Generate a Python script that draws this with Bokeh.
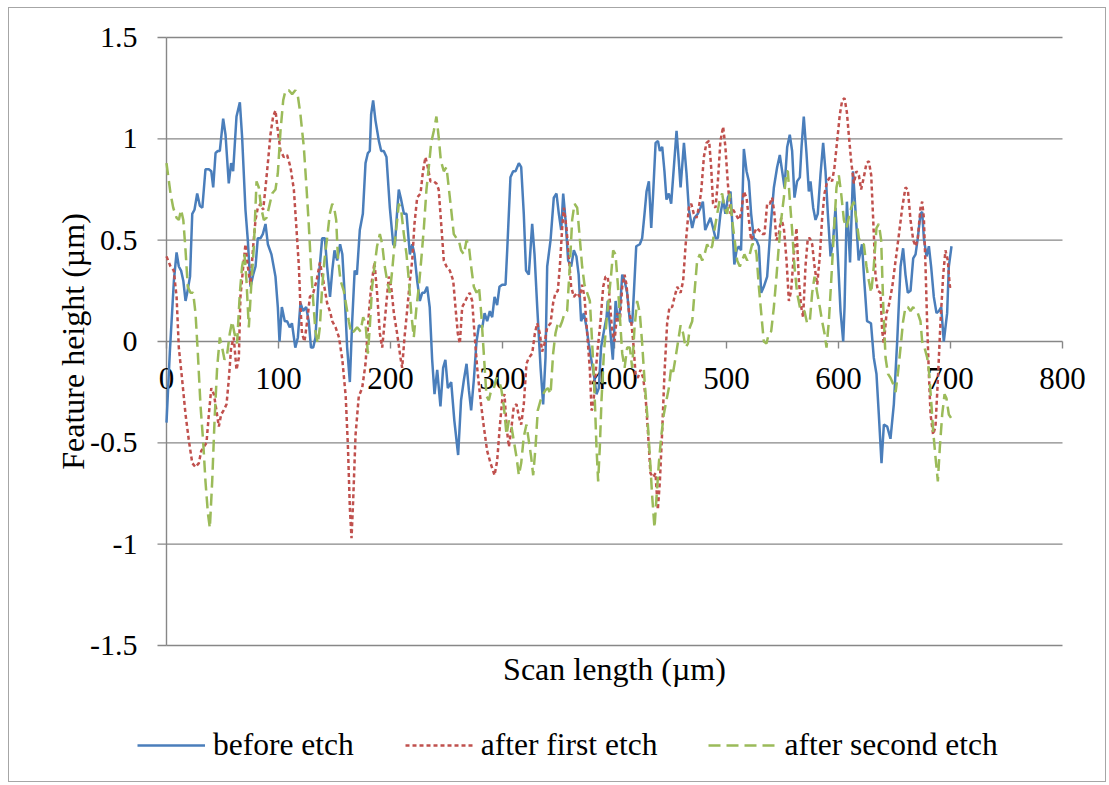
import math
from bokeh.plotting import figure
from bokeh.models import Legend, LegendItem, Range1d
from bokeh.core.properties import value
from bokeh.embed import file_html
from bokeh.resources import INLINE

# ---------------- data ----------------
before_x = [0, 3, 6.6, 9, 11, 13, 15, 17, 18.5, 21, 23, 25, 27.4, 29.8, 32, 34.8, 37.8, 40, 41.7, 43.8,
            45.8, 47.6, 50.6, 52.7, 55.6, 57.7, 59.5, 62.5, 65.5, 67.5, 70.5, 72.6, 75, 77.4, 79.5, 81.5,
            84, 86, 88.4, 90.5, 93.7, 97.3, 99.4, 100.9, 103, 105.6, 107.7, 110, 112, 115, 117.3, 119.6,
            122, 124.7, 127, 129, 131, 133, 136, 139, 141.4, 143.4, 146, 148, 150, 152.4, 155, 157, 159,
            161.3, 163.7, 165.8, 168, 170, 172.6, 175.3, 177.7, 179.8, 181.5, 182.7, 184.5, 186.6, 189.6,
            191.7, 194, 196.4, 199.4, 202.4, 203.9, 205.4, 207.4, 209.5, 212, 214.3, 217.3, 219.4, 221.4,
            223.8, 226.2, 228.3, 230.4, 232.7, 235, 237.2, 239.3, 241.7, 244.6, 247, 249, 251.2, 254.2,
            257, 260.4, 263, 265.5, 267.9, 270, 272, 274.4, 276.8, 279, 282, 284, 286.3, 288.7, 290.8,
            292.9, 295.2, 297.3, 299.7, 302.7, 304.2, 307.1, 309.5, 311.6, 314.6, 316.7, 319, 321, 323.5,
            326.5, 328.6, 331, 334, 336.3, 338.4, 339.9, 342.9, 345.8, 348.2, 350.3, 352.4, 354.2, 356.3,
            358.6, 361.3, 363.7, 366, 368, 370.2, 372.6, 375, 377, 379, 381.5, 383.9, 386, 388, 390.5,
            392.9, 394, 396.4, 398.5, 401, 403, 404.8, 406.9, 409, 411.3, 413.7, 415.8, 417.3, 419.4,
            422.6, 424.7, 426.8, 428.6, 430.7, 432.8, 434.5, 436.7, 438.8, 440.5, 442.6, 444.6, 446.4,
            448.5, 450.6, 453, 455.4, 457.4, 459, 462, 464.3, 466.4, 469.4, 471.4, 474.4, 476.8, 478.9,
            481, 483.3, 485.7, 488, 490.2, 492.3, 494.6, 497, 499, 501.2, 503.6, 505, 507, 509, 511, 513,
            515.5, 517.9, 520, 522, 524.4, 526.8, 528.9, 531, 533.3, 536.3, 539.3, 542.3, 545.2, 547.6,
            549.7, 551.8, 554.2, 556.5, 558.6, 560.7, 563, 565.5, 567, 569, 571.4, 573.5, 575, 577.4,
            579.5, 581.5, 584, 586.3, 588.4, 590.5, 592.9, 595.2, 597.3, 599.4, 601.8, 604.2, 605.4,
            607.5, 610.3, 613, 615, 618, 621, 623, 625.5, 629, 631.5, 633.9, 636, 638.4, 640.5, 643.5,
            646.4, 649.4, 652.4, 655.4, 657.7, 659.8, 661.9, 664.3, 666.7, 668.8, 670.8, 673.2, 674.7,
            676.2, 678.6, 680.7, 682.7, 685.1, 687.5, 689.6, 691.7, 694, 697, 698.5, 700.9]
before_y = [-0.40, -0.05, 0.30, 0.44, 0.37, 0.35, 0.30, 0.20, 0.24, 0.32, 0.63, 0.65, 0.73, 0.67, 0.66,
            0.85, 0.85, 0.84, 0.76, 0.93, 0.94, 0.94, 1.10, 1.02, 0.78, 0.88, 0.84, 1.11, 1.18, 1.01,
            0.65, 0.50, 0.27, 0.33, 0.37, 0.51, 0.51, 0.53, 0.58, 0.48, 0.43, 0.32, 0.17, 0.00, 0.17,
            0.10, 0.10, 0.07, 0.09, -0.03, 0.02, 0.19, 0.15, 0.17, 0.10, -0.03, -0.03, 0.02, 0.32, 0.51,
            0.51, 0.37, 0.22, 0.35, 0.45, 0.40, 0.48, 0.43, 0.24, -0.03, -0.20, 0.10, 0.35, 0.33, 0.55,
            0.63, 0.88, 0.93, 0.94, 1.12, 1.19, 1.09, 0.99, 0.94, 0.94, 0.91, 0.66, 0.48, 0.47, 0.60,
            0.75, 0.70, 0.63, 0.63, 0.43, 0.48, 0.43, 0.30, 0.20, 0.24, 0.24, 0.27, 0.17, -0.09, -0.26,
            -0.14, -0.32, -0.13, -0.09, -0.23, -0.20, -0.39, -0.56, -0.29, -0.19, -0.11, -0.24, -0.34,
            -0.19, 0.00, 0.08, 0.07, 0.14, 0.10, 0.15, 0.12, 0.22, 0.18, 0.27, 0.28, 0.28, 0.45, 0.81,
            0.84, 0.84, 0.88, 0.86, 0.63, 0.35, 0.33, 0.58, 0.43, 0.17, -0.13, -0.31, -0.08, 0.37, 0.50,
            0.71, 0.73, 0.63, 0.55, 0.73, 0.60, 0.40, 0.37, 0.45, 0.42, 0.33, 0.10, 0.14, 0.07, -0.01,
            -0.08, -0.16, -0.26, -0.23, -0.03, 0.05, 0.12, 0.20, 0.04, -0.09, 0.20, 0.10, 0.15, 0.33,
            0.30, 0.24, 0.10, 0.09, 0.24, 0.47, 0.48, 0.51, 0.63, 0.74, 0.79, 0.56, 0.73, 0.98, 0.99,
            0.94, 0.96, 0.84, 0.70, 0.73, 0.68, 0.86, 1.04, 0.89, 0.76, 0.98, 0.83, 0.65, 0.56, 0.61,
            0.63, 0.66, 0.69, 0.55, 0.58, 0.61, 0.56, 0.51, 0.51, 0.63, 0.70, 0.63, 0.71, 0.74, 0.60,
            0.38, 0.45, 0.47, 0.45, 0.95, 0.84, 0.79, 0.63, 0.51, 0.50, 0.47, 0.24, 0.27, 0.32, 0.56,
            0.76, 0.86, 0.92, 0.84, 0.76, 0.96, 1.02, 0.94, 0.71, 0.79, 0.81, 0.96, 1.11, 0.93, 0.74,
            0.79, 0.66, 0.60, 0.63, 0.83, 0.98, 0.84, 0.63, 0.42, 0.50, 0.66, 0.42, 0.15, 0.00, 0.17,
            0.69, 0.39, 0.84, 0.66, 0.40, 0.48, 0.30, 0.10, 0.09, -0.08, -0.16, -0.36, -0.60, -0.41,
            -0.42, -0.48, -0.31, 0.00, 0.37, 0.46, 0.33, 0.24, 0.25, 0.41, 0.43, 0.51, 0.63, 0.64, 0.51,
            0.42, 0.47, 0.37, 0.22, 0.14, 0.15, 0.17, 0.00, 0.14, 0.37, 0.47]

first_x = [0, 3.6, 6.5, 9, 11, 14, 17, 20, 23, 25.9, 28.9, 31, 33.3, 35.7, 37.8, 40, 42.3, 44.6, 46.7,
           48.8, 51, 53.6, 55.6, 57.7, 60, 62.5, 64.6, 66, 68.5, 70.5, 72.6, 75, 77.4, 79.5, 81.5, 84,
           86.3, 88.4, 90.5, 92.8, 95.2, 97.3, 99.4, 101.8, 104.8, 107.7, 110.7, 113.7, 116, 118.2,
           119.6, 121, 123.2, 125.6, 128, 131, 134, 137, 140, 143.4, 146.4, 148, 151, 154, 157, 160,
           162, 163.7, 165.2, 166.7, 168.8, 171.7, 174.7, 177.7, 180.7, 182.7, 185.7, 188, 190.5,
           192.6, 195.5, 198.5, 200.6, 203, 205.9, 208.9, 210.4, 212.5, 214.8, 217.3, 219.4, 221.4,
           223.8, 226.8, 229, 231.2, 233.3, 235.7, 238.7, 241, 243, 245, 247.6, 250, 253, 256, 258,
           260.1, 261.9, 264, 266, 268.5, 270.8, 272.9, 275, 277.4, 280.4, 283.3, 286.3, 289.3, 292.9,
           295.2, 297.6, 299.7, 301.8, 303.6, 305.7, 307.7, 310.1, 312.5, 314.6, 316.7, 319, 321.4,
           323.5, 326.5, 328.9, 331, 333.3, 335.4, 337.5, 339.9, 342.9, 345.2, 347.3, 349.4, 351.2,
           353.3, 354.8, 357.1, 359.2, 361.3, 363.7, 366.7, 369, 371.1, 373.2, 375.6, 378, 379.5, 381,
           383, 385.1, 387.5, 389.9, 392, 394, 395.8, 397.9, 400, 402.4, 404.8, 406.9, 409, 410.7,
           412.8, 414.9, 416.7, 418.8, 420.8, 423.2, 425.6, 427.7, 429.8, 432.1, 434.5, 436.6, 438.7,
           440.5, 442.6, 444.6, 447, 449.1, 451.5, 453.6, 456, 459, 461.3, 463.4, 466.4, 468.5, 470.8,
           473.2, 475.3, 477.4, 479.8, 482.1, 484.5, 486.3, 488, 490.2, 492.3, 494.6, 497, 499, 501.2,
           503.6, 506, 508, 511, 513, 515.5, 517.9, 520, 522, 524.4, 526.8, 528.9, 531.8, 533.9, 536.3,
           538.7, 540.8, 542.8, 544.6, 546.7, 548.8, 551.2, 553.6, 555.7, 557.7, 560.1, 562.5, 564.6,
           566.7, 568.4, 570.5, 572.6, 574.4, 576.5, 578.6, 581, 583.3, 585.4, 587.5, 589.9, 592.3,
           594.3, 596.4, 598.8, 601.2, 603.3, 605.4, 607.5, 609.2, 611.3, 613.7, 616, 618.2, 620.2,
           622.6, 625, 627.1, 629.2, 631, 633, 635.1, 637.5, 639, 640.5, 642.9, 645, 648, 651, 654,
           656.9, 659.8, 661.9, 664.3, 666.7, 668.8, 670.8, 673.2, 674.7, 676.2, 677.7, 679.2, 680.7,
           682.2, 684.5, 686.6, 688.7, 691.1, 693.5, 695.5, 697.6, 699.4, 700.9]
first_y = [0.42, 0.37, 0.35, 0.22, -0.03, -0.19, -0.36, -0.49, -0.60, -0.62, -0.60, -0.54, -0.52,
           -0.50, -0.36, -0.23, -0.26, -0.34, -0.42, -0.36, -0.34, -0.31, -0.19, -0.03, 0.02, -0.14,
           -0.08, 0.22, 0.37, 0.48, 0.37, 0.28, 0.47, 0.60, 0.66, 0.68, 0.65, 0.76, 0.88, 1.02, 1.11,
           1.14, 1.04, 0.94, 0.91, 0.92, 0.86, 0.75, 0.56, 0.37, 0.17, 0.04, 0.00, 0.10, 0.22, 0.24,
           0.30, 0.39, 0.30, 0.19, 0.14, 0.10, 0.07, 0.02, -0.09, -0.27, -0.52, -0.82, -0.97, -0.78,
           -0.46, -0.27, -0.23, -0.11, 0.14, 0.27, 0.39, 0.24, 0.04, -0.03, 0.14, 0.32, 0.27, 0.14,
           0.04, -0.08, -0.13, 0.02, 0.15, 0.30, 0.40, 0.58, 0.71, 0.73, 0.84, 0.91, 0.86, 0.79, 0.79,
           0.78, 0.75, 0.60, 0.40, 0.37, 0.35, 0.30, 0.17, 0.04, -0.01, 0.17, 0.19, 0.22, 0.24, 0.20,
           0.04, -0.13, -0.29, -0.42, -0.54, -0.60, -0.66, -0.59, -0.42, -0.29, -0.26, -0.42, -0.52,
           -0.44, -0.32, -0.31, -0.37, -0.41, -0.31, -0.11, -0.08, -0.06, 0.04, 0.09, 0.04, -0.05,
           -0.01, 0.07, 0.09, 0.19, 0.24, 0.25, 0.37, 0.56, 0.66, 0.56, 0.42, 0.27, 0.22, 0.24, 0.22,
           0.28, 0.22, 0.04, -0.14, -0.34, -0.32, -0.16, -0.03, 0.10, 0.27, 0.32, 0.32, 0.20, 0.05,
           0.00, 0.14, 0.10, 0.27, 0.33, 0.28, 0.15, 0.10, 0.00, -0.16, -0.18, -0.14, -0.18, -0.27,
           -0.44, -0.65, -0.67, -0.65, -0.83, -0.69, -0.44, -0.16, 0.09, 0.17, 0.17, 0.22, 0.27, 0.24,
           0.30, 0.47, 0.66, 0.68, 0.63, 0.61, 0.66, 0.74, 0.91, 0.98, 0.99, 0.86, 0.68, 0.66, 0.79,
           0.99, 1.06, 0.96, 0.78, 0.63, 0.65, 0.63, 0.60, 0.63, 0.74, 0.71, 0.60, 0.50, 0.53, 0.56,
           0.55, 0.53, 0.53, 0.68, 0.68, 0.71, 0.63, 0.50, 0.53, 0.61, 0.56, 0.40, 0.20, 0.25, 0.43,
           0.56, 0.30, 0.17, 0.12, 0.37, 0.51, 0.51, 0.48, 0.37, 0.28, 0.42, 0.61, 0.73, 0.79, 0.81,
           0.79, 0.86, 0.99, 1.12, 1.19, 1.20, 1.13, 1.02, 0.89, 0.78, 0.84, 0.82, 0.75, 0.81, 0.88,
           0.89, 0.82, 0.60, 0.33, 0.25, 0.24, 0.05, -0.01, 0.14, 0.18, 0.27, 0.40, 0.53, 0.66, 0.76,
           0.75, 0.60, 0.50, 0.47, 0.51, 0.66, 0.69, 0.61, 0.37, 0.08, -0.16, -0.36, -0.46, -0.42,
           -0.19, 0.10, 0.33, 0.45, 0.40, 0.27, 0.27]

second_x = [0, 3.6, 6, 9, 11, 13, 15, 17, 19, 21.4, 23.8, 25.9, 28, 30.4, 32.7, 34.8, 37, 38.7, 40.8,
            42.9, 45.2, 47.6, 49.7, 51.8, 54.2, 56.5, 58.6, 60.7, 63, 65.5, 67.5, 69.6, 71.4, 73.5,
            75.6, 78, 80.4, 82.4, 84.5, 86.9, 89.3, 91.4, 94.3, 97.3, 99.4, 101.8, 104.2, 106.3, 109.2,
            112.2, 115, 117.3, 119.6, 122.6, 125, 127, 129, 131, 133, 135.1, 136.9, 139, 141, 143.4,
            145.8, 148, 150, 151.5, 153, 155.4, 158.3, 160.7, 162.8, 164.9, 167.3, 170.2, 173.2, 175.6,
            177.7, 179.8, 181.5, 183.6, 185.7, 188, 190.5, 192.6, 194.6, 197, 199.4, 201.5, 203.6, 206,
            207.4, 209.5, 211.9, 214.3, 216.4, 218.5, 220.8, 223.2, 225.3, 227.4, 229.8, 232.1, 234.2,
            236.3, 238.7, 241, 243, 245, 247.6, 250, 252, 254.2, 256.5, 258.9, 261, 263, 265.5, 267.9,
            270, 272, 274.4, 276.8, 279, 281, 283.3, 285.7, 287.8, 289.9, 292.3, 294.6, 296.7, 298.8,
            301.2, 303.6, 305.7, 307.7, 310.1, 312.5, 314.6, 316.7, 319, 321.4, 323.5, 325.6, 327.4,
            329.5, 331.5, 334, 336.3, 338.4, 340.5, 342.9, 345.2, 347.3, 349.4, 351.2, 353.3, 355.4,
            357.7, 360.1, 362.2, 364.3, 366.7, 369, 371.1, 373.2, 375.6, 378, 380, 382.1, 383.9, 385.4,
            386.9, 388.4, 390.5, 392.9, 395, 397, 398.8, 400.9, 403, 404.8, 406.9, 409, 411.3, 413.7,
            415.8, 417.9, 420.2, 422.6, 424.7, 426.8, 429.2, 431.5, 433.6, 435.7, 437.5, 439.6, 441.7,
            444, 446.4, 448.5, 450.6, 452.4, 454.5, 456.5, 459, 461.3, 463.4, 465.5, 467.3, 469.4,
            471.4, 473.8, 476.2, 478.3, 480.4, 482.7, 485.1, 487.2, 489.3, 491.7, 494, 496.1, 498.2,
            500.6, 503, 505, 507.1, 509.5, 511.9, 514, 516, 518.5, 520.8, 522.9, 525, 526.8, 528.9, 531,
            533.3, 535.7, 537.8, 539.9, 542.3, 544.6, 546.7, 548.8, 551.2, 553.6, 554.8, 556.5, 558.6,
            560.7, 563, 565.5, 567.6, 569.6, 572, 574.4, 576.5, 578.6, 581, 583.3, 585.4, 587.5, 589.3,
            591.4, 593.5, 595.8, 598.2, 600.3, 602.4, 604.8, 607.1, 609.2, 611.3, 613.7, 616, 618.2,
            620.2, 622.6, 625, 627.1, 629.2, 631.5, 633.9, 636, 638.1, 640, 642, 644.2, 646.5, 648.8,
            651, 653, 655.4, 657.7, 659.8, 661.9, 664.3, 666.7, 668.8, 670.8, 673.2, 674.7, 676.8,
            679.2, 680.7, 682.7, 684.5, 686.6, 688.7, 690.5, 692.6, 694.7, 696.4, 698.5, 700.9]
second_y = [0.88, 0.73, 0.66, 0.61, 0.60, 0.65, 0.60, 0.45, 0.27, 0.24, 0.24, 0.14, -0.06, -0.32,
            -0.49, -0.69, -0.85, -0.92, -0.69, -0.39, -0.13, 0.02, -0.03, -0.09, -0.06, 0.04, 0.10,
            0.04, -0.01, 0.24, 0.37, 0.43, 0.30, 0.07, 0.27, 0.47, 0.79, 0.76, 0.66, 0.60, 0.61, 0.66,
            0.73, 0.75, 0.83, 1.04, 1.19, 1.24, 1.24, 1.22, 1.24, 1.21, 1.12, 0.96, 0.76, 0.58, 0.37,
            0.20, 0.05, -0.01, 0.07, 0.27, 0.40, 0.51, 0.63, 0.68, 0.65, 0.60, 0.42, 0.30, 0.25, 0.17,
            0.10, 0.04, 0.05, 0.07, 0.05, 0.12, 0.09, -0.06, 0.07, 0.27, 0.37, 0.47, 0.53, 0.48, 0.38,
            0.30, 0.24, 0.35, 0.48, 0.60, 0.68, 0.65, 0.53, 0.43, 0.30, 0.14, 0.02, 0.17, 0.27, 0.40,
            0.56, 0.75, 0.86, 0.98, 1.04, 1.11, 1.01, 0.89, 0.84, 0.86, 0.76, 0.65, 0.53, 0.51, 0.50,
            0.45, 0.43, 0.50, 0.47, 0.37, 0.27, 0.24, 0.27, 0.14, -0.06, -0.27, -0.29, -0.24, -0.23,
            -0.18, -0.19, -0.23, -0.32, -0.46, -0.39, -0.41, -0.49, -0.57, -0.66, -0.60, -0.47, -0.41,
            -0.49, -0.57, -0.66, -0.52, -0.34, -0.29, -0.26, -0.24, -0.23, -0.26, -0.06, 0.04, 0.09,
            0.07, 0.10, 0.14, 0.15, 0.37, 0.60, 0.68, 0.66, 0.51, 0.37, 0.28, 0.24, 0.20, 0.00, -0.24,
            -0.52, -0.69, -0.52, -0.29, -0.06, 0.10, 0.22, 0.33, 0.45, 0.43, 0.28, 0.12, -0.06, -0.13,
            -0.03, -0.03, -0.13, 0.07, 0.20, 0.14, -0.01, -0.19, -0.36, -0.56, -0.76, -0.92, -0.77,
            -0.60, -0.47, -0.36, -0.29, -0.23, -0.13, -0.15, -0.08, -0.01, 0.08, 0.04, -0.03, -0.01,
            0.07, 0.10, 0.24, 0.40, 0.43, 0.40, 0.43, 0.48, 0.45, 0.47, 0.55, 0.63, 0.70, 0.73, 0.66,
            0.63, 0.73, 0.60, 0.51, 0.40, 0.37, 0.40, 0.43, 0.40, 0.43, 0.48, 0.48, 0.43, 0.27, 0.14,
            0.00, -0.01, 0.04, 0.05, 0.17, 0.32, 0.47, 0.60, 0.71, 0.84, 0.84, 0.70, 0.55, 0.37, 0.24,
            0.17, 0.15, 0.15, 0.09, 0.10, 0.24, 0.32, 0.24, 0.17, 0.10, 0.04, -0.03, 0.10, 0.30, 0.53,
            0.76, 0.82, 0.73, 0.60, 0.56, 0.61, 0.66, 0.69, 0.60, 0.51, 0.48, 0.48, 0.37, 0.30, 0.24,
            0.37, 0.56, 0.58, 0.50, 0.17, -0.08, -0.16, -0.18, -0.21, -0.25, -0.16, -0.03, 0.10, 0.17,
            0.17, 0.15, 0.17, 0.15, 0.14, 0.10, 0.00, -0.03, -0.08, -0.14, -0.29, -0.44, -0.57, -0.69,
            -0.52, -0.36, -0.26, -0.28, -0.36, -0.38]

x_ticks = [0, 100, 200, 300, 400, 500, 600, 700, 800]
x_tick_labels = ["0", "100", "200", "300", "400", "500", "600", "700", "800"]
y_ticks = [-1.5, -1.0, -0.5, 0.0, 0.5, 1.0, 1.5]
y_tick_labels = ["-1.5", "-1", "-0.5", "0", "0.5", "1", "1.5"]
series_names = ["before etch", "after first etch", "after second etch"]
x_title = "Scan length (\u00b5m)"
y_title = "Feature height (\u00b5m)"

# ---------------- styling / layout ----------------
FONT = value("Liberation Serif")
GRID = "#878787"
COLORS = ["#4A7EBB", "#C0504D", "#9BBB59"]
PX_PER_X = 1.12          # screen px per x unit
PX_PER_Y = 202.667       # screen px per y unit
W, H = 1098, 775         # canvas (placed at page x=9, y=8)
X0_SCREEN = 166 - 9      # canvas px of x = 0
Y15_SCREEN = 37 - 8      # canvas px of y = 1.5

x_start = -X0_SCREEN / PX_PER_X
x_end = x_start + W / PX_PER_X
y_end = 1.5 + Y15_SCREEN / PX_PER_Y
y_start = y_end - H / PX_PER_Y

p = figure(width=W, height=H, output_backend="svg", toolbar_location=None,
           x_axis_location=None, y_axis_location=None,
           x_range=Range1d(x_start, x_end), y_range=Range1d(y_start, y_end),
           min_border=0)
p.styles = {"border": "1px solid #a6a6a6", "margin-left": "8px", "margin-top": "7px"}
p.outline_line_color = None
p.background_fill_color = "white"
p.border_fill_color = "white"
p.xgrid.visible = False
p.ygrid.visible = False

n_y = len(y_ticks)
n_x = len(x_ticks)

# horizontal gridlines
p.segment(x0=[x_ticks[0]] * n_y, y0=y_ticks, x1=[x_ticks[-1]] * n_y, y1=y_ticks,
          line_color=GRID, line_width=1.4)

# y axis: line, outward ticks, labels, title
ytick_len = 9 / PX_PER_X
p.segment(x0=[0], y0=[y_ticks[0]], x1=[0], y1=[y_ticks[-1]], line_color=GRID, line_width=1.4)
p.segment(x0=[0] * n_y, y0=y_ticks, x1=[-ytick_len] * n_y, y1=y_ticks, line_color=GRID, line_width=1.4)
p.text(x=[0] * n_y, y=y_ticks, text=y_tick_labels, text_align="right", text_baseline="middle",
       x_offset=-29, text_font=FONT, text_font_size=value("30px"), text_color="black")
p.text(x=[0], y=[0], text=[y_title], angle=math.pi / 2, text_align="center",
       text_baseline="middle", x_offset=-94, y_offset=0, text_font=FONT,
       text_font_size=value("32px"), text_color="black")

# x axis crossing at y = 0: outward ticks and labels, title below the plot
xtick_len = 7 / PX_PER_Y
p.segment(x0=x_ticks, y0=[0] * n_x, x1=x_ticks, y1=[-xtick_len] * n_x, line_color=GRID, line_width=1.4)
p.text(x=x_ticks, y=[0] * n_x, text=x_tick_labels, text_align="center", text_baseline="middle",
       y_offset=37, text_font=FONT, text_font_size=value("31px"), text_color="black")
p.text(x=[(x_ticks[0] + x_ticks[-1]) / 2], y=[y_ticks[0]], text=[x_title], text_align="center",
       text_baseline="middle", y_offset=23, text_font=FONT, text_font_size=value("32px"),
       text_color="black")

# series
r1 = p.line(before_x, before_y, line_color=COLORS[0], line_width=2.5)
r2 = p.line(first_x, first_y, line_color=COLORS[1], line_width=2.5, line_dash="4 3")
r3 = p.line(second_x, second_y, line_color=COLORS[2], line_width=2.5, line_dash="12 6")

legend = Legend(items=[LegendItem(label=series_names[0], renderers=[r1]),
                       LegendItem(label=series_names[1], renderers=[r2]),
                       LegendItem(label=series_names[2], renderers=[r3])],
                orientation="horizontal", location=(128, 20),
                glyph_width=68, glyph_height=20, label_standoff=8, spacing=51,
                padding=0, margin=0, border_line_color=None, background_fill_alpha=0,
                label_text_font="Liberation Serif", label_text_font_size="31.5px",
                label_text_color="black")
p.add_layout(legend)

open("out.html", "w").write(file_html(p, INLINE))
